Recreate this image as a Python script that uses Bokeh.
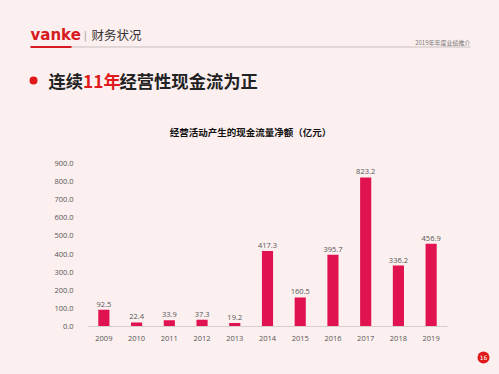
from bokeh.plotting import figure
from bokeh.models import (Label, ColumnDataSource, FixedTicker, NumeralTickFormatter,
                          FactorRange, Range1d)
from bokeh.layouts import column
from bokeh.core.properties import value
from bokeh.embed import file_html
from bokeh.resources import INLINE

years = ["2009", "2010", "2011", "2012", "2013", "2014", "2015", "2016", "2017", "2018", "2019"]
cash_flow = [92.5, 22.4, 33.9, 37.3, 19.2, 417.3, 160.5, 395.7, 823.2, 336.2, 456.9]
value_labels = ["92.5", "22.4", "33.9", "37.3", "19.2", "417.3", "160.5", "395.7", "823.2", "336.2", "456.9"]
y_ticks = [0, 100, 200, 300, 400, 500, 600, 700, 800, 900]

BG = "#fcefef"
RED = "#e0124f"
W, H = 499, 374
HEAD_H = 153
FRAME_TOP = 163
FRAME_BOTTOM = 326
CH_H = FRAME_BOTTOM - HEAD_H + 18
FOOT_H = H - HEAD_H - CH_H
FL, FR = 87, 447


def blank(w, h):
    f = figure(width=w, height=h, x_range=Range1d(0, w), y_range=Range1d(h, 0),
               output_backend="svg", toolbar_location=None, x_axis_type=None,
               y_axis_type=None, min_border=0, background_fill_color=BG,
               border_fill_color=BG, frame_align=False)
    f.outline_line_color = None
    f.grid.grid_line_color = None
    return f


def lab(f, text, cx, cy, size, color="#222222", font="Noto Sans CJK SC", style="normal",
        align="left", baseline="middle"):
    f.add_layout(Label(x=cx, y=cy, text=text, text_font_size=size, text_color=color,
                       text_font=font, text_font_style=style, text_align=align,
                       text_baseline=baseline))


# ---------- header ----------
head = blank(W, HEAD_H)
lab(head, "vanke", 30, 34, "15px", color="#d71a21", font="DejaVu Sans", style="bold")
lab(head, "|", 83, 35, "11px", color="#aaaaaa", font="DejaVu Sans")
lab(head, "财务状况", 91, 34, "12.5px", color="#333333")
lab(head, "2019年年度业绩推介", 470, 41.5, "6px", color="#777777", align="right")
head.line([30, 470], [46.5, 46.5], line_color="#c9bfbf", line_width=1)
head.line([30, 71], [46.5, 46.5], line_color="#d71a21", line_width=2)

head.scatter([33], [80], size=8, fill_color="#e01a1a", line_color=None)
lab(head, "连续", 48, 80, "17.3px", color="#222222", style="bold")
lab(head, "11年", 82.5, 80, "17.3px", color="#e01a1a", style="bold")
lab(head, "经营性现金流为正", 119, 80, "17.3px", color="#222222", style="bold")

lab(head, "经营活动产生的现金流量净额（亿元）", 250, 131, "9.5px", color="#111111",
    style="bold", align="center")

# ---------- chart ----------
src = ColumnDataSource(dict(year=years, v=cash_flow, lab=value_labels))

p = figure(width=W, height=CH_H, x_range=FactorRange(*years), y_range=(0, 900),
           output_backend="svg", toolbar_location=None,
           min_border_left=FL, min_border_right=W - FR, min_border_top=FRAME_TOP - HEAD_H,
           min_border_bottom=CH_H - (FRAME_BOTTOM - HEAD_H),
           background_fill_color=BG, border_fill_color=BG, frame_align=False)
p.outline_line_color = None
p.grid.grid_line_color = None
p.x_range.range_padding = 0

p.vbar(x="year", top="v", width=0.34, source=src, fill_color=RED, line_color=None)
p.text(x="year", y="v", text="lab", source=src, text_align="center", text_baseline="bottom",
       y_offset=-3, text_font_size="7.5px", text_color="#555555", text_font=value("Open Sans"))

xa = p.xaxis[0]
xa.axis_line_color = "#d8cccc"
xa.major_tick_line_color = None
xa.minor_tick_line_color = None
xa.major_label_text_font_size = "7.5px"
xa.major_label_text_color = "#555555"
xa.major_label_text_font = "Open Sans"
xa.major_label_standoff = 3

ya = p.yaxis[0]
ya.ticker = FixedTicker(ticks=y_ticks)
ya.formatter = NumeralTickFormatter(format="0.0")
ya.axis_line_color = None
ya.major_tick_line_color = None
ya.minor_tick_line_color = None
ya.major_label_text_font_size = "7.5px"
ya.major_label_text_color = "#555555"
ya.major_label_text_font = "Open Sans"
ya.major_label_standoff = 8

# ---------- footer (page number) ----------
foot = blank(W, FOOT_H)
py = 357 - HEAD_H - CH_H
foot.scatter([483], [py], size=12, fill_color="#e01a1a", line_color=None)
lab(foot, "16", 483, py, "6px", color="#ffffff", font="DejaVu Sans", align="center")

layout = column(head, p, foot, spacing=0)

html = file_html(layout, INLINE)
html = html.replace("</head>", "<style>html,body{background:%s;}</style></head>" % BG, 1)
open("out.html", "w").write(html)
